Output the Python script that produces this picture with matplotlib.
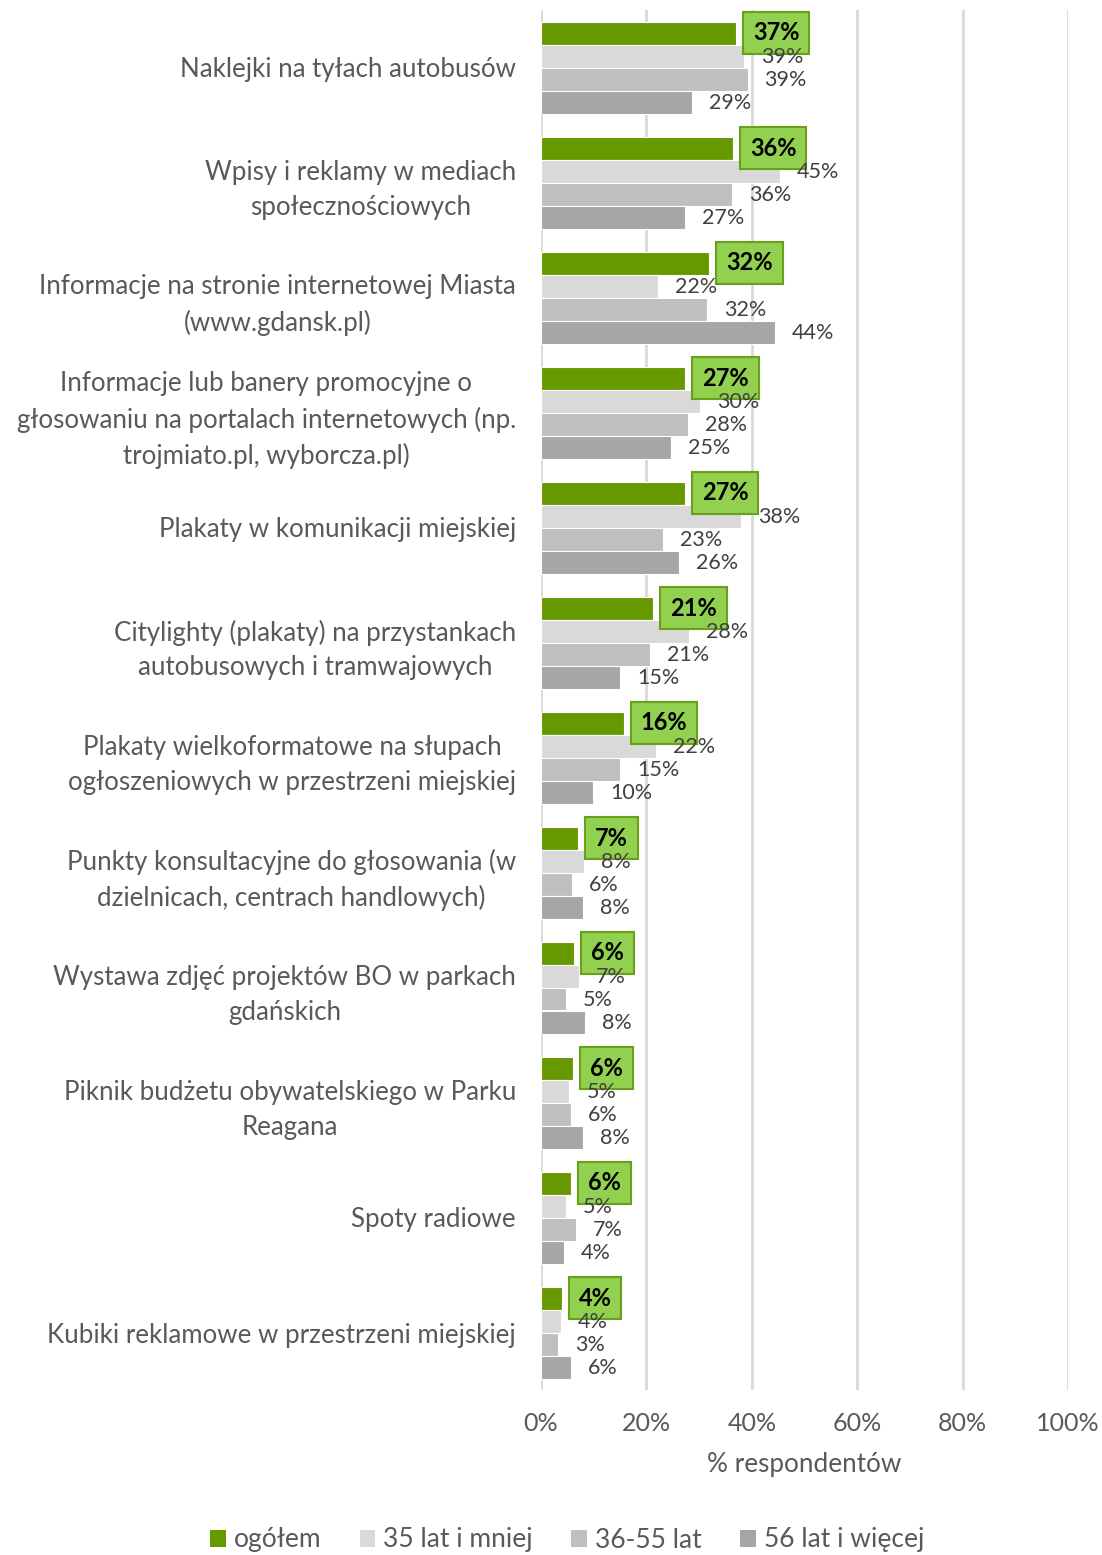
import numpy as np
import matplotlib
matplotlib.use('Agg')
import matplotlib.pyplot as plt
from matplotlib.patches import Patch
import matplotlib.transforms as mtransforms

plt.rcParams['font.family'] = ['Lato', 'DejaVu Sans']

# categories top to bottom
categories = [
    'Naklejki na tyłach autobusów',
    'Wpisy i reklamy w mediach\nspołecznościowych',
    'Informacje na stronie internetowej Miasta\n(www.gdansk.pl)',
    'Informacje lub banery promocyjne o\ngłosowaniu na portalach internetowych (np.\ntrojmiato.pl, wyborcza.pl)',
    'Plakaty w komunikacji miejskiej',
    'Citylighty (plakaty) na przystankach\nautobusowych i tramwajowych',
    'Plakaty wielkoformatowe na słupach\nogłoszeniowych w przestrzeni miejskiej',
    'Punkty konsultacyjne do głosowania (w\ndzielnicach, centrach handlowych)',
    'Wystawa zdjęć projektów BO w parkach\ngdańskich',
    'Piknik budżetu obywatelskiego w Parku\nReagana',
    'Spoty radiowe',
    'Kubiki reklamowe w przestrzeni miejskiej',
]

ogolem = [37.0, 36.4, 31.9, 27.4, 27.3, 21.3, 15.7, 7.0, 6.3, 6.1, 5.7, 3.9]
do35 = [38.6, 45.3, 22.2, 30.2, 38.0, 28.1, 21.8, 8.2, 7.2, 5.4, 4.7, 3.8]
od36do55 = [39.2, 36.2, 31.5, 27.9, 23.1, 20.7, 15.0, 5.9, 4.7, 5.7, 6.6, 3.2]
od56 = [28.7, 27.3, 44.4, 24.6, 26.2, 15.0, 9.9, 8.0, 8.3, 8.0, 4.4, 5.6]

series_names = ['ogółem', '35 lat i mniej', '36-55 lat', '56 lat i więcej']
series_values = [ogolem, do35, od36do55, od56]
colors = ['#669900', '#D9D9D9', '#BFBFBF', '#A6A6A6']

xticks = [0, 20, 40, 60, 80, 100]

fig = plt.figure(figsize=(11.02, 15.55), dpi=100)
ax = fig.add_axes([541/1102, 1 - 1390/1555, (1068-541)/1102, 1380/1555])

y = np.arange(len(categories))
h = 0.2
offsets = [-0.3, -0.1, 0.1, 0.3]

# shift labels to the right of bar end by a fixed number of pixels
txt_shift = mtransforms.offset_copy(ax.transData, fig=fig, x=17, y=-1, units='dots')
box_shift = mtransforms.offset_copy(ax.transData, fig=fig, x=17, y=0, units='dots')

for k in range(4):
    vals = series_values[k]
    ax.barh(y + offsets[k], vals, height=h, color=colors[k],
            edgecolor='white', linewidth=0.8, zorder=2)
    for i, v in enumerate(vals):
        lab = f'{v:.0f}%'
        if k == 0:
            ax.text(v, y[i] + offsets[k], lab, transform=box_shift,
                    ha='left', va='center', fontsize=17, fontweight='bold',
                    color='black', zorder=5,
                    bbox=dict(boxstyle='square,pad=0.42', facecolor='#92D050',
                              edgecolor='#6A9F1A', linewidth=1.5))
        else:
            # grey labels sit on top of the green boxes
            ax.text(v, y[i] + offsets[k], lab, transform=txt_shift,
                    ha='left', va='center', fontsize=15.5, color='#404040',
                    zorder=6)

ax.set_ylim(len(categories) - 0.5, -0.5)
ax.set_xlim(0, 100)
ax.set_xticks(xticks)
ax.set_xticklabels([f'{t}%' for t in xticks], fontsize=18, color='#595959')
ax.tick_params(axis='x', length=0, pad=16)
ax.tick_params(axis='y', length=0, pad=18)
ax.set_yticks(y)
ax.set_yticklabels(categories, fontsize=18.6, color='#595959',
                   multialignment='center', linespacing=1.48)
ax.grid(axis='x', color='#D9D9D9', linewidth=2, zorder=0)
ax.set_axisbelow(True)
for s in ax.spines.values():
    s.set_visible(False)
ax.set_xlabel('% respondentów', fontsize=18.8, color='#595959', labelpad=12)

handles = [Patch(facecolor=c, edgecolor='none') for c in colors]
fig.legend(handles, series_names, loc='center', bbox_to_anchor=(567/1102, 1 - 1540/1555),
           ncol=4, frameon=False, fontsize=19, labelcolor='#595959',
           handlelength=0.6, handleheight=0.6, handletextpad=0.3, columnspacing=1.45)

plt.savefig('out.png', dpi=100)
plt.close()
